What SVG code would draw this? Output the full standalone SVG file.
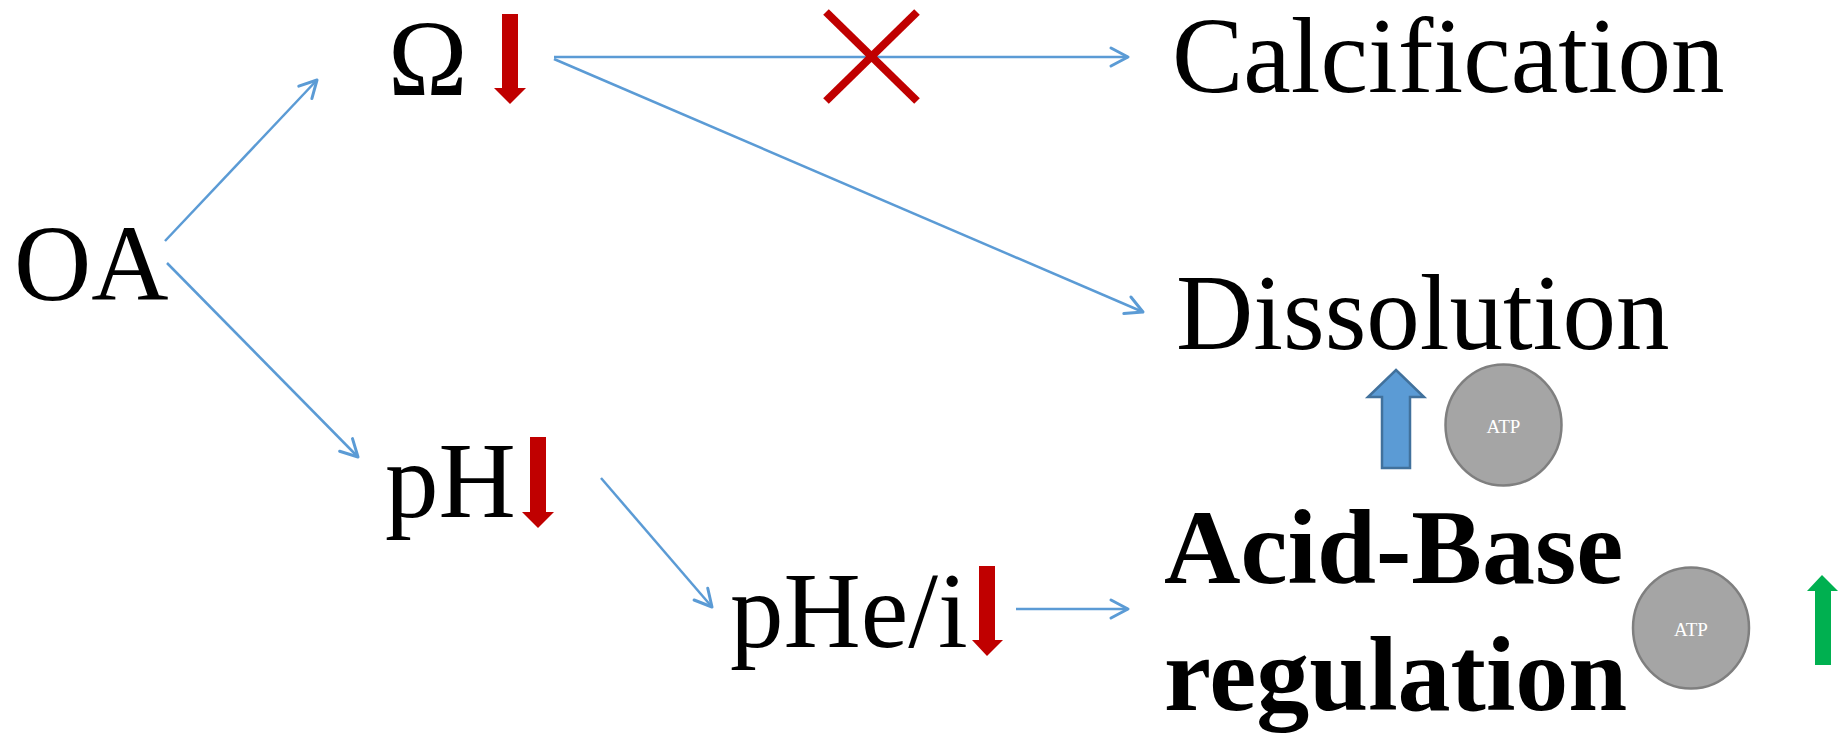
<svg xmlns="http://www.w3.org/2000/svg" width="1847" height="737" viewBox="0 0 1847 737">
<style>
.t{font-family:"Liberation Serif","Times New Roman",serif;font-size:107px;fill:#000}
.b{font-weight:bold;font-size:106px}
.c{stroke:#5B9BD5;stroke-width:2.5;fill:none}
.red{fill:#C00000}
.atp{fill:#A5A5A5;stroke:#7F7F7F;stroke-width:2.5}
.atpt{font-family:"Liberation Serif","Times New Roman",serif;font-size:19px;fill:#fff;text-anchor:middle}
</style>
<defs>
<marker id="ah" markerUnits="userSpaceOnUse" markerWidth="40" markerHeight="40" viewBox="-20 -20 40 40" refX="0" refY="0" orient="auto" overflow="visible">
<path d="M-17,-9 L0,0 L-17,9" fill="none" stroke="#5B9BD5" stroke-width="3" stroke-linecap="round" stroke-linejoin="round"/>
</marker>
</defs>
<rect width="1847" height="737" fill="#fff"/>
<g id="connectors">
<line class="c" x1="165" y1="241" x2="317" y2="80" marker-end="url(#ah)"/>
<line class="c" x1="167" y1="263" x2="358" y2="457" marker-end="url(#ah)"/>
<line class="c" x1="554" y1="57" x2="1128" y2="57" marker-end="url(#ah)"/>
<line class="c" x1="554" y1="59" x2="1143" y2="312" marker-end="url(#ah)"/>
<line class="c" x1="601" y1="478" x2="712" y2="607" marker-end="url(#ah)"/>
<line class="c" x1="1016" y1="609" x2="1128" y2="609" marker-end="url(#ah)"/>
</g>
<g id="block-x">
<line x1="826" y1="12" x2="917" y2="101" stroke="#C00000" stroke-width="8"/>
<line x1="917" y1="12" x2="826" y2="101" stroke="#C00000" stroke-width="8"/>
</g>
<g id="node-OA"><text class="t" x="14" y="300">OA</text></g>
<g id="node-omega">
<text class="t" x="388" y="95">Ω</text>
<polygon class="red" points="502,14 518,14 518,88 526,88 510,104 494,88 502,88"/>
</g>
<g id="node-pH">
<text class="t" x="385" y="517">pH</text>
<polygon class="red" points="530,437 546,437 546,512 554,512 538,528 522,512 530,512"/>
</g>
<g id="node-pHei">
<text class="t" x="730" y="647">pHe/i</text>
<polygon class="red" points="979,566 995,566 995,640 1003,640 987,656 972,640 979,640"/>
</g>
<g id="node-calcification"><text class="t" x="1172" y="92">Calcification</text></g>
<g id="node-dissolution"><text class="t" x="1176" y="349">Dissolution</text></g>
<g id="node-acidbase">
<text class="t b" x="1164" y="583">Acid-Base</text>
<text class="t b" x="1164" y="710">regulation</text>
</g>
<g id="blue-arrow">
<polygon points="1396,370 1424,397 1410,397 1410,468 1382,468 1382,397 1368,397" fill="#5B9BD5" stroke="#41719C" stroke-width="2.5" stroke-linejoin="miter"/>
</g>
<g id="atp1">
<ellipse class="atp" cx="1503.5" cy="425" rx="58" ry="60.5"/>
<text class="atpt" x="1503.5" y="433">ATP</text>
</g>
<g id="atp2">
<ellipse class="atp" cx="1691" cy="628" rx="58" ry="60.5"/>
<text class="atpt" x="1691" y="636">ATP</text>
</g>
<g id="green-arrow">
<polygon points="1822,575 1838,591 1831,591 1831,665 1815,665 1815,591 1807,591" fill="#00B050"/>
</g>
</svg>
